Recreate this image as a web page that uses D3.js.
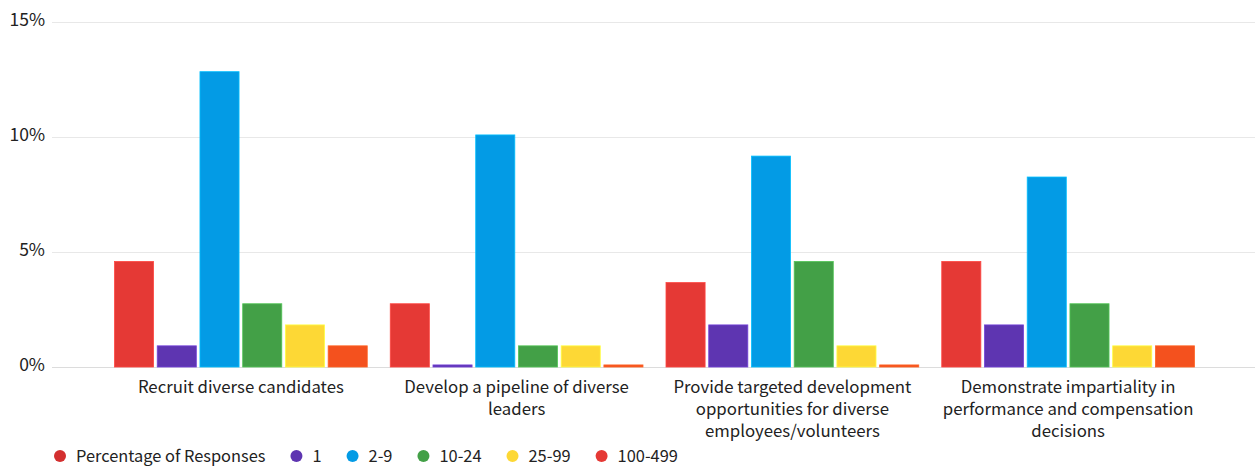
<!DOCTYPE html>
<html>
<head>
<meta charset="utf-8">
<script src="https://cdn.jsdelivr.net/npm/d3@7"></script>
<style>
  html, body { margin: 0; padding: 0; background: #fff; }
  svg { display: block; font-family: "Noto Sans CJK SC", "Noto Sans", sans-serif; }
</style>
</head>
<body>
<svg id="chart" width="1255" height="466"></svg>
<script>
// Survey actions (x categories)
const categories = [
  "Recruit diverse candidates",
  "Develop a pipeline of diverse leaders",
  "Provide targeted development opportunities for diverse employees/volunteers",
  "Demonstrate impartiality in performance and compensation decisions"
];

// Series names (organisation size bands)
const seriesNames = ["Percentage of Responses", "1", "2-9", "10-24", "25-99", "100-499"];

// Share of responses, in percent, per series and category
const pctResponses = [4.59, 2.75, 3.67, 4.59];
const size1        = [0.92, 0.09, 1.83, 1.83];
const size2to9     = [12.84, 10.09, 9.17, 8.26];
const size10to24   = [2.75, 0.92, 4.59, 2.75];
const size25to99   = [1.83, 0.92, 0.92, 0.92];
const size100to499 = [0.92, 0.09, 0.09, 0.92];

const seriesValues = [pctResponses, size1, size2to9, size10to24, size25to99, size100to499];

// Y axis ticks
const yTicks = [0, 5, 10, 15];

const barColors    = ["#E53935", "#5E35B1", "#039BE5", "#43A047", "#FDD835", "#F4511E"];
const legendColors = ["#D32F2F", "#5E35B1", "#039BE5", "#43A047", "#FDD835", "#E53935"];

const FONT = "'Noto Sans CJK SC', 'Noto Sans', sans-serif";
const LABEL_SIZE = 16.8;

function draw() {
  const svg = d3.select("#chart");

  const y = d3.scaleLinear().domain([0, 15]).range([367, 22]);

  const x0 = d3.scaleBand().domain(categories).range([103, 1206]).paddingInner(0).paddingOuter(0);
  const x1 = d3.scaleBand().domain(seriesNames)
    .range([11.5, x0.bandwidth() - 11.5])
    .paddingInner(0.085).paddingOuter(0);

  // Horizontal grid lines
  svg.append("g").selectAll("line")
    .data(yTicks)
    .join("line")
    .attr("x1", 52).attr("x2", 1255)
    .attr("y1", d => y(d) + 0.5).attr("y2", d => y(d) + 0.5)
    .attr("stroke", d => d === 0 ? "#dcdcdc" : "#e8e8e8")
    .attr("stroke-width", 1);

  // Y axis labels
  const yAxis = d3.axisLeft(y).tickValues(yTicks).tickFormat(d => d + "%").tickSize(0).tickPadding(0);
  const yg = svg.append("g").attr("transform", "translate(45,0)").call(yAxis);
  yg.select(".domain").remove();
  yg.selectAll("text")
    .attr("font-size", 17.5)
    .attr("fill", "#222")
    .attr("font-family", FONT)
    .attr("dy", "0.2em");

  // Bars
  const rows = [];
  categories.forEach((c, ci) => {
    seriesNames.forEach((s, si) => {
      rows.push({ cat: c, series: s, si, value: seriesValues[si][ci] });
    });
  });

  svg.append("g").selectAll("rect")
    .data(rows)
    .join("rect")
    .attr("x", d => x0(d.cat) + x1(d.series))
    .attr("y", d => y(d.value))
    .attr("width", x1.bandwidth())
    .attr("height", d => y(0) - y(d.value))
    .attr("fill", d => barColors[d.si])
    .attr("stroke", d => d3.color(barColors[d.si]).brighter(0.6))
    .attr("stroke-width", 0.8);

  // Off-screen text used to measure line widths while wrapping
  const probe = svg.append("text")
    .attr("x", -9999).attr("y", -9999)
    .attr("font-size", LABEL_SIZE)
    .attr("font-family", FONT);
  const widthOf = s => { probe.text(s); return probe.node().getComputedTextLength(); };

  function wrap(label, maxWidth) {
    const lines = [];
    let cur = [];
    label.split(" ").forEach(w => {
      const trial = cur.concat(w).join(" ");
      if (cur.length && widthOf(trial) > maxWidth) {
        lines.push(cur.join(" "));
        cur = [w];
      } else {
        cur.push(w);
      }
    });
    if (cur.length) lines.push(cur.join(" "));
    return lines;
  }

  // Category labels
  const xg = svg.append("g");
  categories.forEach(c => {
    const cx = x0(c) + x0.bandwidth() / 2;
    const text = xg.append("text")
      .attr("x", cx).attr("y", 393)
      .attr("text-anchor", "middle")
      .attr("font-size", LABEL_SIZE)
      .attr("font-family", FONT)
      .attr("fill", "#222");
    text.selectAll("tspan")
      .data(wrap(c, 252))
      .join("tspan")
      .attr("x", cx)
      .attr("dy", (d, i) => i === 0 ? 0 : 22)
      .text(d => d);
  });
  probe.remove();

  // Legend
  const legend = svg.append("g").attr("transform", "translate(0,456)");
  let lx = 60;
  seriesNames.forEach((s, i) => {
    const g = legend.append("g").attr("transform", `translate(${lx},0)`);
    g.append("circle").attr("r", 6).attr("cx", 0).attr("cy", 0).attr("fill", legendColors[i]);
    const t = g.append("text")
      .attr("x", 16).attr("y", 0).attr("dy", "0.35em")
      .attr("font-size", 16.4).attr("font-family", FONT).attr("fill", "#222")
      .text(s);
    lx += 16 + t.node().getComputedTextLength() + 31;
  });
}

// Measure text only once the label font is available
Promise.all([
  document.fonts.load("16px 'Noto Sans CJK SC'"),
  document.fonts.ready
]).then(draw, draw);
</script>
</body>
</html>
